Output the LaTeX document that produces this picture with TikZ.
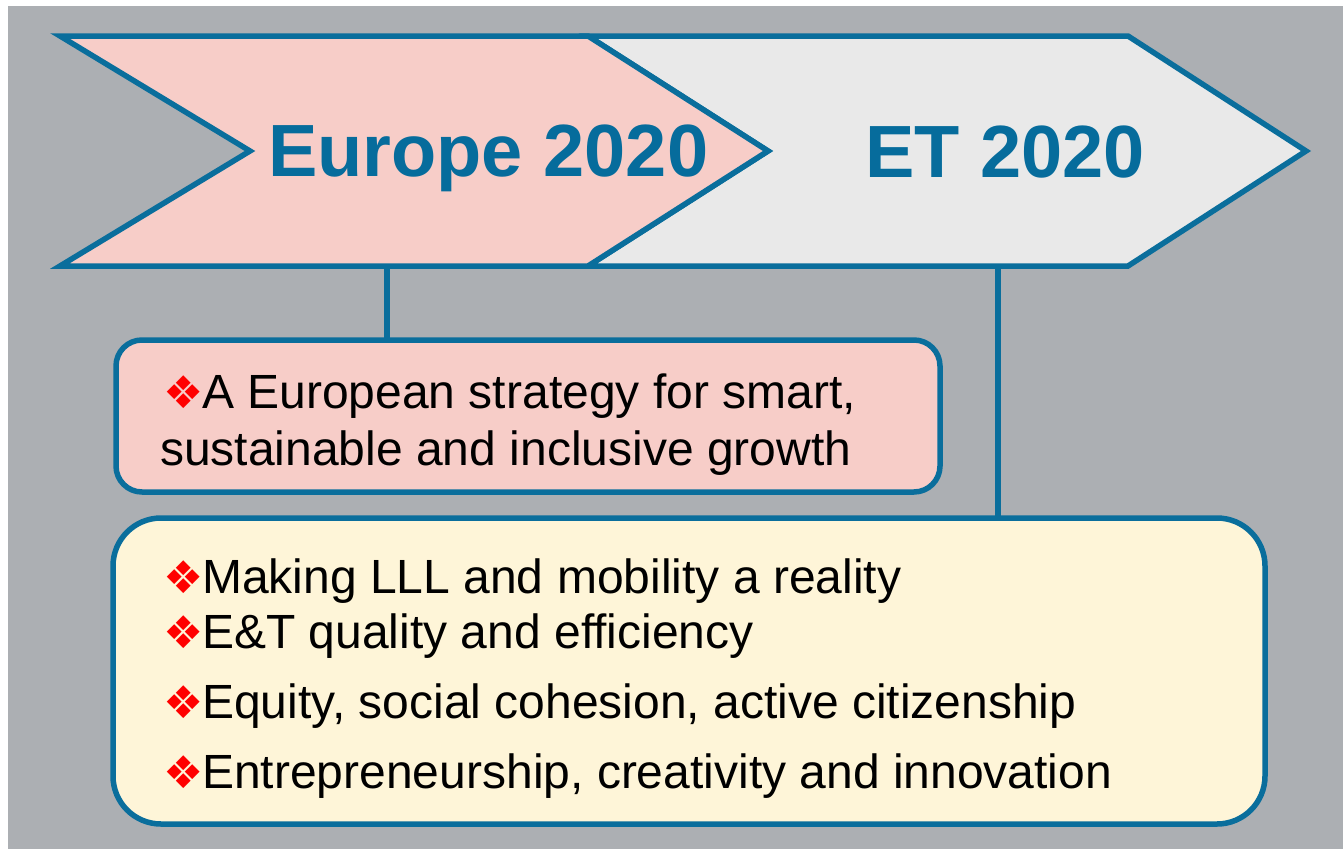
\documentclass[tikz,border=0pt]{standalone}
\usepackage{fontspec}
\setmainfont{Liberation Sans}
\newfontfamily\symfont{DejaVu Sans}
\definecolor{bggray}{HTML}{ACAFB3}
\definecolor{teal}{HTML}{0A6E9C}
\definecolor{titleblue}{HTML}{066C9C}
\definecolor{pinkfill}{HTML}{F7CDC8}
\definecolor{etfill}{HTML}{E9E9E9}
\definecolor{creamfill}{HTML}{FEF5D8}
\newcommand{\bul}{\makebox[38pt][l]{\hspace*{-1pt}\raisebox{0pt}{\fontsize{45}{45}\symfont\color{red}❖}}}
\tikzset{
  shapeline/.style={draw=teal, line width=5.5pt, line join=miter},
  conn/.style={draw=teal, line width=5.5pt},
  title/.style={anchor=base west, inner sep=0pt, text=titleblue, font=\fontsize{74}{80}\selectfont\bfseries},
  item/.style={anchor=base west, inner sep=0pt, text=black, font=\fontsize{48}{56}\selectfont},
  box/.style={shapeline, inner sep=0pt, outer sep=0pt}
}
\begin{document}
\begin{tikzpicture}[x=1pt,y=-1pt]
\useasboundingbox (0,0) rectangle (1343,849);
\fill[white] (0,0) rectangle (1343,849);
\fill[bggray] (8,6) rectangle (1343,849);
% ET chevron
\coordinate (etTL) at (588,36);
\coordinate (etTR) at (1128,36);
\coordinate (etP) at (1306,151);
\coordinate (etBR) at (1128,266);
\coordinate (etBL) at (588,266);
\coordinate (etN) at (768,151);
\path[shapeline, fill=etfill] (etTL) -- (etTR) -- (etP) -- (etBR) -- (etBL) -- (etN) -- cycle;
% Europe chevron
\coordinate (euTL) at (60,36);
\coordinate (euTR) at (588,36);
\coordinate (euP) at (768,151);
\coordinate (euBR) at (588,266);
\coordinate (euBL) at (60,266);
\coordinate (euN) at (250,151);
\path[shapeline, fill=pinkfill] (euTL) -- (euTR) -- (euP) -- (euBR) -- (euBL) -- (euN) -- cycle;
\node[title] (eutitle) at (268,176) {Europe 2020};
\node[title] (ettitle) at (865,177) {ET 2020};
% boxes
\node[box, fill=pinkfill, rounded corners=26pt, minimum width=824pt, minimum height=152pt] (box1) at (528,416) {};
\node[box, fill=creamfill, rounded corners=48pt, minimum width=1152pt, minimum height=306pt] (box2) at (689,671) {};
% connectors
\coordinate (euS) at (387,266);
\coordinate (etS) at (998,266);
\draw[conn] (euS) -- (euS |- box1.north);
\draw[conn] (etS) -- (etS |- box2.north);
% texts
\node[item] (t1) at (164,408) {\bul A European strategy for smart,};
\node[item] (t2) at (160,465) {sustainable and inclusive growth};
\node[item] (l1) at (164,593) {\bul Making LLL and mobility a reality};
\node[item] (l2) at (164,648) {\bul E\&T quality and efficiency};
\node[item] (l3) at (164,718) {\bul Equity, social cohesion, active citizenship};
\node[item] (l4) at (164,788) {\bul Entrepreneurship, creativity and innovation};
\end{tikzpicture}
\end{document}
